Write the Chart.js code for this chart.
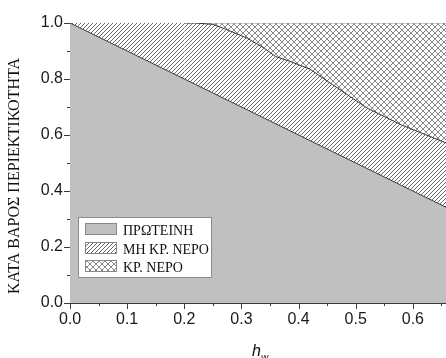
<!DOCTYPE html>
<html><head><meta charset="utf-8">
<script src="https://cdn.jsdelivr.net/npm/chart.js@4"></script>
<style>html,body{margin:0;padding:0;background:#fff}#wrap{width:446px;height:358px;position:relative}</style>
</head><body><div id="wrap"><canvas id="c" width="446" height="358"></canvas></div>
<script>
// ---- data ----
const hw              = [0.00, 0.10, 0.20, 0.22, 0.25, 0.27, 0.31, 0.34, 0.36, 0.385, 0.42, 0.46, 0.52, 0.58, 0.66, 0.70];
const proteinLine     = [1.00, 0.90, 0.80, 0.78, 0.75, 0.73, 0.69, 0.66, 0.64, 0.615, 0.58, 0.54, 0.48, 0.42, 0.34, 0.30];
const nonFreezableTop = [1.00, 1.00, 1.00, 1.00, 0.995, 0.98, 0.946, 0.91, 0.88, 0.863, 0.835, 0.779, 0.696, 0.636, 0.57, 0.535];
const totalLine       = [1.00, 1.00, 1.00, 1.00, 1.00, 1.00, 1.00, 1.00, 1.00, 1.00, 1.00, 1.00, 1.00, 1.00, 1.00, 1.00];
const seriesLabels    = ['ΠΡΩΤΕΙΝΗ', 'ΜΗ ΚΡ. ΝΕΡΟ', 'ΚΡ. ΝΕΡΟ'];
const xTickLabels     = ['0.0','0.1','0.2','0.3','0.4','0.5','0.6'];
const yTickLabels     = ['0.0','0.2','0.4','0.6','0.8','1.0'];
const yTitle          = 'ΚΑΤΑ ΒΑΡΟΣ ΠΕΡΙΕΚΤΙΚΟΤΗΤΑ';
const xTitleMain      = 'h';
const xTitleSub       = 'w';

const pts = arr => hw.map((x, i) => ({x: x, y: arr[i]}));

// ---- patterns ----
function makeHatch() {
  const c = document.createElement('canvas'); c.width = 4; c.height = 4;
  const g = c.getContext('2d');
  g.fillStyle = '#fff'; g.fillRect(0, 0, 4, 4);
  g.fillStyle = '#6a6a6a';
  for (let i = 0; i < 4; i++) g.fillRect(i, 3 - i, 1, 1);
  return g.createPattern(c, 'repeat');
}
function makeCross() {
  const c = document.createElement('canvas'); c.width = 6; c.height = 6;
  const g = c.getContext('2d');
  g.fillStyle = '#fff'; g.fillRect(0, 0, 6, 6);
  g.fillStyle = '#8a8a8a';
  for (let i = 0; i < 6; i++) { g.fillRect(i, i, 1, 1); g.fillRect(i, 5 - i, 1, 1); }
  return g.createPattern(c, 'repeat');
}
const hatch = makeHatch();
const cross = makeCross();
const proteinColor = '#c0c0c0';
const fills = [proteinColor, hatch, cross];

const axisColor = '#3a3a3a';

const decorations = {
  id: 'decorations',
  afterDraw(chart) {
    const ctx = chart.ctx, a = chart.chartArea;
    const xs = chart.scales.x, ys = chart.scales.y;
    ctx.save();
    // tick marks (major + minor)
    ctx.strokeStyle = axisColor; ctx.lineWidth = 1;
    ctx.beginPath();
    for (let k = 0; k <= 13; k++) {
      const v = k * 0.05;
      if (v > xs.max + 1e-9) break;
      const px = Math.round(xs.getPixelForValue(v)) + 0.5;
      const len = (k % 2 === 0) ? 6 : 3;
      ctx.moveTo(px, a.bottom); ctx.lineTo(px, a.bottom + len);
    }
    for (let k = 0; k <= 10; k++) {
      const v = k * 0.1;
      const py = Math.round(ys.getPixelForValue(v)) + 0.5;
      const len = (k % 2 === 0) ? 6 : 3;
      ctx.moveTo(a.left, py); ctx.lineTo(a.left - len, py);
    }
    ctx.stroke();

    // y title
    ctx.fillStyle = '#111';
    ctx.font = '16px "Liberation Serif", "Times New Roman", serif';
    ctx.textAlign = 'center'; ctx.textBaseline = 'middle';
    ctx.save();
    ctx.translate(15, 176);
    ctx.rotate(-Math.PI / 2);
    ctx.fillText(yTitle, 0, 0);
    ctx.restore();

    // x title h_w
    ctx.textAlign = 'left'; ctx.textBaseline = 'alphabetic';
    ctx.font = 'italic 16px "Liberation Sans", Arial, sans-serif';
    ctx.fillText(xTitleMain, 252, 356);
    ctx.font = 'italic 10px "Liberation Sans", Arial, sans-serif';
    ctx.fillText(xTitleSub, 261, 361);

    // legend
    const bx = a.left + 8, by = a.bottom - 86, bw = 134, bh = 61;
    ctx.fillStyle = '#fff';
    ctx.fillRect(bx, by, bw, bh);
    ctx.strokeStyle = '#8c8c8c'; ctx.lineWidth = 1;
    ctx.strokeRect(bx + 0.5, by + 0.5, bw - 1, bh - 1);
    ctx.font = '14px "Liberation Serif", "Times New Roman", serif';
    for (let i = 0; i < seriesLabels.length; i++) {
      const sy = by + 6 + i * 18.7;
      const sx = bx + 7;
      ctx.fillStyle = fills[i];
      ctx.fillRect(Math.round(sx), Math.round(sy), 32, 12);
      ctx.strokeStyle = '#888';
      ctx.strokeRect(Math.round(sx) + 0.5, Math.round(sy) + 0.5, 31, 11);
      ctx.fillStyle = '#111';
      ctx.textBaseline = 'alphabetic';
      ctx.fillText(seriesLabels[i], sx + 38, Math.round(sy) + 12);
    }
    ctx.restore();
  }
};

new Chart(document.getElementById('c'), {
  type: 'line',
  data: {
    datasets: [
      { label: seriesLabels[0], data: pts(proteinLine), fill: 'origin',
        backgroundColor: proteinColor, borderColor: '#3c3c3c', borderWidth: 1,
        pointRadius: 0, tension: 0 },
      { label: seriesLabels[1], data: pts(nonFreezableTop), fill: '-1',
        backgroundColor: hatch, borderColor: '#333', borderWidth: 1,
        segment: { borderColor: c => (c.p0.parsed.x < 0.2 ? 'rgba(0,0,0,0)' : '#333') },
        pointRadius: 0, tension: 0 },
      { label: seriesLabels[2], data: pts(totalLine), fill: '-1',
        backgroundColor: cross, borderColor: '#9a9a9a', borderWidth: 1,
        pointRadius: 0, tension: 0 }
    ]
  },
  options: {
    responsive: false,
    animation: false,
    devicePixelRatio: 1,
    layout: { padding: { top: 23, right: 0, bottom: 0, left: 0 } },
    plugins: { legend: { display: false }, tooltip: { enabled: false } },
    scales: {
      x: {
        type: 'linear', min: 0, max: 0.658,
        grid: { display: false, drawTicks: false },
        border: { display: true, color: axisColor, width: 1 },
        ticks: { stepSize: 0.1, includeBounds: false, padding: 7, color: '#1a1a1a', maxRotation: 0,
          font: { family: '"Liberation Sans", Arial, sans-serif', size: 16 },
          callback: (v) => { const i = Math.round(v * 10); return Math.abs(v * 10 - i) < 1e-6 ? xTickLabels[i] : ''; } },
        afterFit: s => { s.height = 55; }
      },
      y: {
        type: 'linear', min: 0, max: 1,
        grid: { display: false, drawTicks: false },
        border: { display: true, color: axisColor, width: 1 },
        ticks: { stepSize: 0.2, padding: 7, color: '#1a1a1a',
          font: { family: '"Liberation Sans", Arial, sans-serif', size: 16 },
          callback: (v) => { const i = Math.round(v * 5); return yTickLabels[i]; } },
        afterFit: s => { s.width = 70; }
      }
    }
  },
  plugins: [decorations]
});
</script>
</body></html>
